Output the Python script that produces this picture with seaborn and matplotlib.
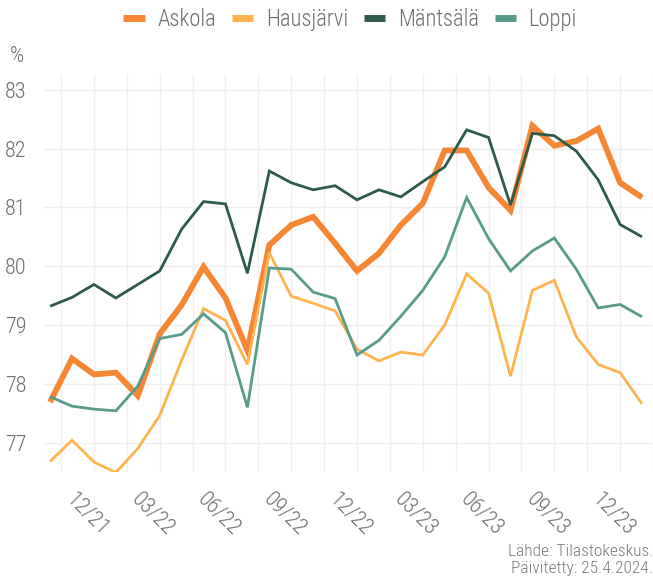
import matplotlib
matplotlib.use("Agg")
import matplotlib.pyplot as plt
import matplotlib.transforms as mtransforms
import seaborn as sns
import pandas as pd
import numpy as np

# ---- data (monthly, 10/2021 .. 01/2024) ----
months = pd.date_range("2021-10-01", "2024-01-01", freq="MS")
month_labels = [d.strftime("%m/%y") for d in months]

askola = [77.69, 78.43, 78.16, 78.19, 77.80, 78.85, 79.34, 79.99, 79.46, 78.57,
          80.36, 80.70, 80.84, 80.39, 79.92, 80.22, 80.70, 81.07, 81.97, 81.97,
          81.34, 80.95, 82.39, 82.05, 82.13, 82.34, 81.42, 81.17]
hausjarvi = [76.68, 77.04, 76.67, 76.49, 76.90, 77.46, 78.40, 79.28, 79.08, 78.33,
             80.23, 79.49, 79.37, 79.24, 78.59, 78.39, 78.54, 78.49, 79.00, 79.87,
             79.54, 78.13, 79.59, 79.76, 78.80, 78.33, 78.19, 77.66]
mantsala = [79.32, 79.47, 79.69, 79.46, 79.69, 79.92, 80.63, 81.10, 81.06, 79.88,
            81.62, 81.42, 81.30, 81.37, 81.13, 81.30, 81.18, 81.44, 81.69, 82.32,
            82.19, 81.04, 82.26, 82.22, 81.96, 81.47, 80.71, 80.50]
loppi = [77.78, 77.62, 77.57, 77.54, 77.96, 78.77, 78.84, 79.19, 78.87, 77.60,
         79.97, 79.95, 79.56, 79.45, 78.49, 78.74, 79.15, 79.59, 80.16, 81.17,
         80.47, 79.92, 80.26, 80.48, 79.95, 79.29, 79.35, 79.14]

series_names = ["Askola", "Hausjärvi", "Mäntsälä", "Loppi"]
series_values = [askola, hausjarvi, mantsala, loppi]
series_colors = ["#F58634", "#FFB34F", "#2E5A4C", "#589B8B"]
series_widths = [4.2, 2.0, 2.0, 2.0]

y_ticks = [77, 78, 79, 80, 81, 82, 83]
label_every = 3
first_label = 2  # 12/21

TXT = "#6E6E6E"

# ---- figure ----
sns.set_theme(style="white")
plt.rcParams["font.family"] = ["Roboto Condensed", "Roboto", "DejaVu Sans"]
plt.rcParams["font.weight"] = "light"

fig = plt.figure(figsize=(6.53, 5.79), dpi=100)
ax = fig.add_axes([43.5 / 653, 1 - 472 / 579, 1 - 43.5 / 653, (472 - 74) / 579])

idx = np.arange(len(months))
for name, vals, col, lw in zip(series_names, series_values, series_colors, series_widths):
    df = pd.DataFrame({"i": idx, "v": vals})
    sns.lineplot(data=df, x="i", y="v", color=col, linewidth=lw, ax=ax,
                 label=name, solid_joinstyle="miter", solid_capstyle="butt")

ax.set_xlim(-0.3, 27.5)
ax.set_ylim(76.5, 83.27)

major = idx[first_label::label_every]
ax.set_xticks(major)
ax.set_xticklabels([month_labels[i] for i in major])
ax.set_xticks(np.arange(0.5, 28, 3), minor=True)
ax.set_yticks(y_ticks)
ax.set_yticklabels([str(t) for t in y_ticks])

for spine in ax.spines.values():
    spine.set_visible(False)
ax.grid(True, which="major", color="#EFEFEF", linewidth=1.0)
ax.grid(True, which="minor", axis="x", color="#EFEFEF", linewidth=1.0)
ax.set_axisbelow(True)
ax.tick_params(axis="both", which="both", length=0)
ax.tick_params(axis="y", labelsize=16, labelcolor=TXT, pad=12)
ax.tick_params(axis="x", labelsize=16, labelcolor=TXT, pad=12)
ax.set_xlabel("")
ax.set_ylabel("")

offset = mtransforms.ScaledTranslation(-7 / 100, 0, fig.dpi_scale_trans)
for lab in ax.get_xticklabels():
    lab.set_rotation(-45)
    lab.set_ha("center")
    lab.set_va("top")
    lab.set_transform(lab.get_transform() + offset)

leg = ax.legend(loc="upper center", bbox_to_anchor=(0.503, 1 + 74 / 398 + 0.032),
                ncol=4, frameon=False, fontsize=16.3, handlelength=0.95,
                handletextpad=0.55, columnspacing=0.7)
for h in leg.get_lines():
    h.set_linewidth(5)
for t in leg.get_texts():
    t.set_color(TXT)

fig.text(10 / 653, 1 - 57 / 579, "%", ha="left", va="center", fontsize=16, color=TXT)
fig.text(1.0, 1 - 551 / 579, "Lähde: Tilastokeskus.", ha="right", va="center",
         fontsize=12.5, color="#7A7A7A")
fig.text(1.0, 1 - 568 / 579, "Päivitetty: 25.4.2024.", ha="right", va="center",
         fontsize=12.5, color="#7A7A7A")

fig.savefig("out.png", dpi=100)
